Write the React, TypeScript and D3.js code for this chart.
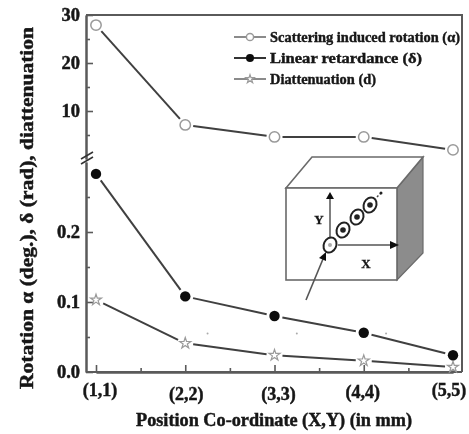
import React, { useEffect, useRef } from 'react';
import * as d3 from 'd3';

const positions = [1, 2, 3, 4, 5];
const positionLabels = ['(1,1)', '(2,2)', '(3,3)', '(4,4)', '(5,5)'];
const minorPositions = [1.5, 2.5, 3.5, 4.5];
const rotation = [27.9, 7.1, 4.6, 4.6, 1.9];
const retardance = [0.283, 0.108, 0.08, 0.056, 0.024];
const diattenuation = [0.103, 0.041, 0.024, 0.016, 0.007];
const upperTicks = [10, 20, 30];
const upperMinor = [5, 15, 25];
const lowerTicks = [0, 0.1, 0.2];
const lowerMinor = [0.05, 0.15, 0.25];
const legendLabels = ['Scattering induced rotation (α)', 'Linear retardance (δ)', 'Diattenuation (d)'];
const legendWidths = [190, 152, 106];
const specks = [2.25, 3.25, 4.25];

const FONT = '"Liberation Serif", serif';
const INK = '#151515';
const AXIS = '#5a5a5a';
const LINE = '#404040';
const MARK = '#9a9a9a';

const App = () => {
  const ref = useRef<SVGSVGElement>(null);

  useEffect(() => {
    const svg = d3.select(ref.current);
    svg.selectAll('*').remove();

    const left = 86, right = 462, top = 15, bottom = 372;
    const x = d3.scaleLinear().domain([1, 5]).range([96, 453]);
    const yUp = d3.scaleLinear().domain([0, 30]).range([159, top]);
    const yLow = d3.scaleLinear().domain([0, 0.3]).range([bottom, 162]);

    svg.append('defs').append('filter').attr('id', 'soft')
      .append('feGaussianBlur').attr('stdDeviation', 0.55);
    const g = svg.append('g').attr('filter', 'url(#soft)');

    // bold text in the scan is heavier than the font, so thicken it with a stroke
    const heavy = (t: any, size: number, weight = 0.45) =>
      t.attr('font-family', FONT).attr('font-weight', 'bold').attr('font-size', size)
        .attr('fill', INK).attr('stroke', INK).attr('stroke-width', weight);

    // frame
    g.append('path')
      .attr('d', `M${left},${top}H${right}V${bottom}`)
      .attr('fill', 'none').attr('stroke', AXIS).attr('stroke-width', 2);

    const styleAxis = (a: any) => {
      a.selectAll('path').attr('stroke', AXIS).attr('stroke-width', 2);
      a.selectAll('line').attr('stroke', AXIS).attr('stroke-width', 1.6);
      heavy(a.selectAll('text'), 18.5);
    };

    const leftAxis = (scale: any, ticks: number[], fmt: any, size: number) =>
      g.append('g').attr('transform', `translate(${left},0)`)
        .call(d3.axisLeft(scale).tickValues(ticks).tickFormat(fmt).tickSizeInner(-size).tickSizeOuter(0).tickPadding(6) as any)
        .call(styleAxis);

    leftAxis(yUp, upperTicks, d3.format('d'), 7);
    leftAxis(yUp, upperMinor, () => '', 4);
    leftAxis(yLow, lowerTicks, d3.format('.1f'), 7);
    leftAxis(yLow, lowerMinor, () => '', 4);

    // x axis
    g.append('g').attr('transform', `translate(0,${bottom})`)
      .call(d3.axisBottom(x).tickValues(positions).tickFormat(() => '').tickSizeInner(-7).tickSizeOuter(0) as any)
      .call(styleAxis);
    g.append('g').attr('transform', `translate(0,${bottom})`)
      .call(d3.axisBottom(x).tickValues(minorPositions).tickFormat(() => '').tickSizeInner(-4).tickSizeOuter(0) as any)
      .call(styleAxis);
    g.append('line').attr('x1', left).attr('x2', right).attr('y1', bottom).attr('y2', bottom)
      .attr('stroke', AXIS).attr('stroke-width', 2);

    // x tick labels sit a little unevenly in the scan
    const labelShift = [[4, 390], [1, 394], [4, 394], [-1, 392], [-4, 390]];
    heavy(g.selectAll('.xl').data(positionLabels).join('text')
      .attr('x', (_, i) => x(positions[i]) + labelShift[i][0])
      .attr('y', (_, i) => labelShift[i][1] + 6)
      .attr('text-anchor', 'middle')
      .text(d => d), 18);

    // axis break
    [0, 5].forEach(dy => {
      g.append('line').attr('x1', 81).attr('x2', 93).attr('y1', 159 + dy).attr('y2', 152 + dy)
        .attr('stroke', '#333').attr('stroke-width', 1.5);
    });

    // lines with a gap round every marker
    const drawSeries = (vals: number[], scale: any, gap: number) => {
      const pts = vals.map((v, i) => [x(positions[i]), scale(v)]);
      d3.pairs(pts).forEach(([a, b]) => {
        const len = Math.hypot(b[0] - a[0], b[1] - a[1]);
        const ux = (b[0] - a[0]) / len, uy = (b[1] - a[1]) / len;
        g.append('line')
          .attr('x1', a[0] + ux * gap).attr('y1', a[1] + uy * gap)
          .attr('x2', b[0] - ux * gap).attr('y2', b[1] - uy * gap)
          .attr('stroke', LINE).attr('stroke-width', 2);
      });
      return pts;
    };

    const star = d3.symbol().type(d3.symbolStar);
    const openCircle = (sel: any, cx: number, cy: number, r: number) =>
      sel.append('circle').attr('cx', cx).attr('cy', cy).attr('r', r)
        .attr('fill', '#fff').attr('stroke', MARK).attr('stroke-width', 1.5);
    const solidCircle = (sel: any, cx: number, cy: number, r: number) =>
      sel.append('circle').attr('cx', cx).attr('cy', cy).attr('r', r).attr('fill', '#0c0c0c');
    const openStar = (sel: any, cx: number, cy: number, size: number) =>
      sel.append('path').attr('d', star.size(size)()).attr('transform', `translate(${cx},${cy})`)
        .attr('fill', '#fff').attr('stroke', MARK).attr('stroke-width', 1.2);

    drawSeries(rotation, yUp, 8).forEach(p => openCircle(g, p[0], p[1], 5.2));
    drawSeries(diattenuation, yLow, 8).forEach(p => openStar(g, p[0], p[1], 38));
    drawSeries(retardance, yLow, 8).forEach(p => solidCircle(g, p[0], p[1], 5.2));

    specks.forEach(s => {
      g.append('circle').attr('cx', x(s)).attr('cy', yLow(0.055)).attr('r', 1).attr('fill', '#aaa');
    });

    // legend
    const legendY = [37, 58, 79];
    legendLabels.forEach((label, i) => {
      const y = legendY[i];
      g.append('line').attr('x1', 234).attr('x2', 266).attr('y1', y).attr('y2', y)
        .attr('stroke', i === 1 ? '#111' : '#777').attr('stroke-width', 1.7);
      if (i === 0) openCircle(g, 250, y, 3.6);
      if (i === 1) solidCircle(g, 250, y, 4);
      if (i === 2) openStar(g, 250, y, 22);
      heavy(g.append('text').attr('x', 270).attr('y', y + 4.5)
        .attr('textLength', legendWidths[i]).attr('lengthAdjust', 'spacingAndGlyphs')
        .text(label), 14.5, 0.4);
    });

    // inset: sample cube with the measured positions
    const inset = g.append('g');
    const edge = '#6a6a6a';
    inset.append('path').attr('d', 'M397,188L423,157V253L397,280Z').attr('fill', '#8c8c8c').attr('stroke', edge).attr('stroke-width', 1.2);
    inset.append('path').attr('d', 'M286,188L312,157H423L397,188Z').attr('fill', '#fff').attr('stroke', edge).attr('stroke-width', 1.6);
    inset.append('rect').attr('x', 286).attr('y', 188).attr('width', 111).attr('height', 92)
      .attr('fill', '#fff').attr('stroke', edge).attr('stroke-width', 1.6);
    inset.append('path').attr('d', 'M330,243V198M338,245H392').attr('fill', 'none').attr('stroke', '#555').attr('stroke-width', 1.5);
    inset.append('path').attr('d', 'M330,192L326,199H334Z M399,245L390,241V249Z').attr('fill', '#111');
    const holes = [[330, 245, 0], [343, 230, 1], [357, 217, 1], [370, 205, 1]];
    holes.forEach(([cx, cy, filled]) => {
      inset.append('ellipse').attr('cx', cx).attr('cy', cy).attr('rx', 6.2).attr('ry', 7.8)
        .attr('transform', `rotate(25,${cx},${cy})`)
        .attr('fill', '#fff').attr('stroke', '#222').attr('stroke-width', 2);
      inset.append('circle').attr('cx', cx).attr('cy', cy).attr('r', filled ? 2.8 : 2).attr('fill', filled ? '#222' : '#aaa');
    });
    inset.append('path').attr('d', 'M377,197L382,192').attr('stroke', '#444').attr('stroke-width', 1.5).attr('stroke-dasharray', '2 2');
    inset.append('circle').attr('cx', 381).attr('cy', 193).attr('r', 1.5).attr('fill', '#222');
    inset.append('path').attr('d', 'M306,300L323,259').attr('stroke', '#555').attr('stroke-width', 1.6);
    inset.append('path').attr('d', 'M326,252L319,258L326,261Z').attr('fill', '#111');
    const insetText = (t: string, tx: number, ty: number) =>
      heavy(inset.append('text').attr('x', tx).attr('y', ty).attr('text-anchor', 'middle').text(t), 13, 0.3);
    insetText('Y', 319, 224);
    insetText('X', 366, 268);

    // axis titles
    heavy(g.append('text').attr('x', 274).attr('y', 426).attr('text-anchor', 'middle')
      .attr('textLength', 276).attr('lengthAdjust', 'spacingAndGlyphs')
      .text('Position Co-ordinate (X,Y) (in mm)'), 18);
    heavy(g.append('text').attr('transform', 'translate(33,208) rotate(-90)').attr('text-anchor', 'middle')
      .attr('textLength', 362).attr('lengthAdjust', 'spacingAndGlyphs')
      .text('Rotation α (deg.), δ (rad), diattenuation'), 19);
  }, []);

  return <svg ref={ref} width={469} height={434} style={{ position: 'absolute', left: 0, top: 0, background: '#fff' }} />;
};

export default App;
